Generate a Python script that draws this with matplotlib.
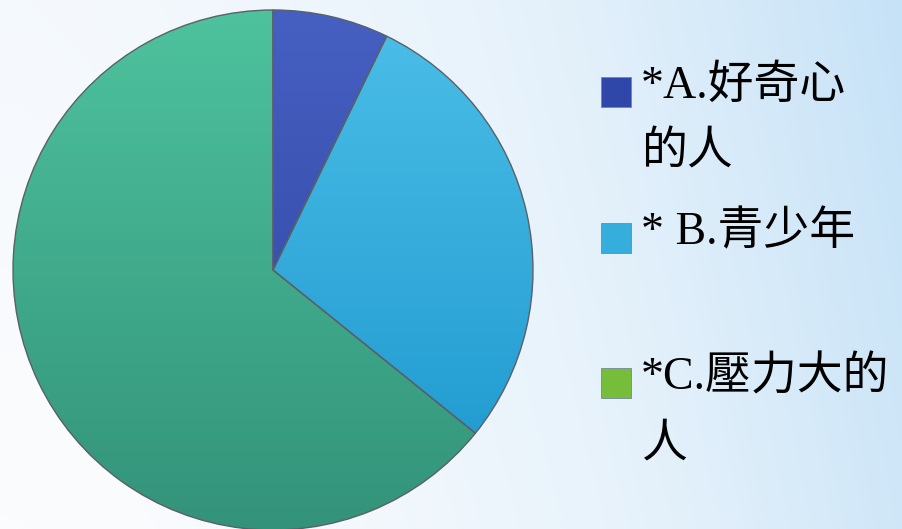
import matplotlib
matplotlib.use("Agg")
import matplotlib.pyplot as plt
import numpy as np
from matplotlib.colors import LinearSegmentedColormap
from matplotlib.patches import Rectangle

# data
labels = ["*A.好奇心\n的人", "* B.青少年", "*C.壓力大的\n人"]
values = [7.2, 28.6, 64.2]
wedge_top = ["#4660c2", "#4cbfe8", "#4ec29d"]
wedge_bot = ["#2c429c", "#1a95cc", "#33937a"]
legend_colors = ["#2f47a8", "#35aedd", "#76bd3c"]

W, H = 903, 529
fig = plt.figure(figsize=(W / 100, H / 100), dpi=100)

# background gradient: white on the left, pale blue on the right
bg = fig.add_axes([0, 0, 1, 1])
xx, yy = np.meshgrid(np.linspace(0, 1, 300), np.linspace(0, 1, 200))
t = np.clip(0.85 * xx ** 1.6 + 0.15 * (1 - yy), 0, 1)
bg_cmap = LinearSegmentedColormap.from_list("bg", ["#fbfcfe", "#e6f2fb", "#c6e2f7"])
bg.imshow(t, cmap=bg_cmap, aspect="auto", extent=[0, 1, 0, 1], origin="upper")
bg.set_axis_off()

# pie: centre (273, 270) px, radius 260 px
cx, cy, r = 273, 270, 260
ax = fig.add_axes([(cx - r) / W, (H - cy - r) / H, 2 * r / W, 2 * r / H])
wedges, _ = ax.pie(values, startangle=90, counterclock=False,
                   colors=wedge_top,
                   wedgeprops=dict(edgecolor="#5a6068", linewidth=1.0))
ax.set_xlim(-1, 1)
ax.set_ylim(-1, 1)
ax.set_aspect("equal")

grad = np.linspace(0, 1, 256).reshape(-1, 1)
for w, c0, c1 in zip(wedges, wedge_top, wedge_bot):
    cm = LinearSegmentedColormap.from_list("w", [c0, c1])
    im = ax.imshow(grad, cmap=cm, extent=[-1, 1, -1, 1], origin="upper",
                   aspect="auto", zorder=w.get_zorder() - 0.1)
    im.set_clip_path(w)
    w.set_facecolor("none")

# legend, drawn as text with square swatches
fam = ["Liberation Serif", "Noto Sans CJK TC"]
rows_y = [92, 238, 383]
for lab, col, y in zip(labels, legend_colors, rows_y):
    fig.patches.append(Rectangle((601 / W, (H - y - 15) / H), 30 / W, 30 / H,
                                 transform=fig.transFigure, facecolor=col,
                                 edgecolor="#6f8a99", linewidth=0.6))
    fig.text(641 / W, (H - y + 27) / H, lab, family=fam, fontsize=33,
             va="top", ha="left", color="black", linespacing=1.75)

fig.savefig("out.png", dpi=100)
